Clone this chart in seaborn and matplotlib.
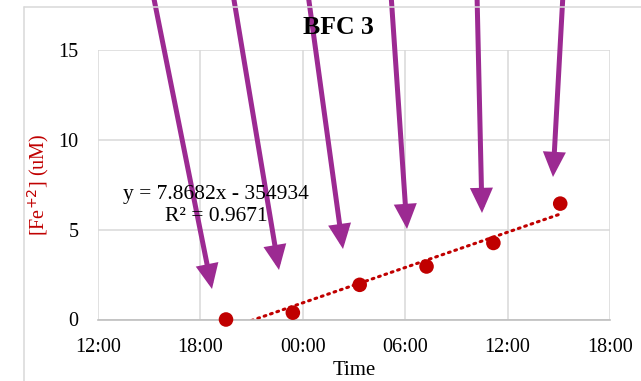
"""
BFC 3: Fe(II) concentration over time with linear trendline and overlaid arrows.
"""

import pandas as pd
import numpy as np
import matplotlib
matplotlib.use("Agg")
import matplotlib.pyplot as plt
import matplotlib.dates as mdates
from matplotlib.patches import FancyArrowPatch
from matplotlib.lines import Line2D
import seaborn as sns

# data
sample_times = ["2023-07-03 19:30", "2023-07-03 23:25", "2023-07-04 03:20",
                "2023-07-04 07:15", "2023-07-04 11:10", "2023-07-04 15:05"]
fe_values = [0.0, 0.38, 1.93, 2.95, 4.26, 6.45]
x_start = "2023-07-03 12:00"
x_end = "2023-07-04 18:00"
y_ticks = [0, 5, 10, 15]
equation_text = "y = 7.8682x - 354934"
r2_text = "R² = 0.9671"

RED = "#C00000"
PURPLE = "#9C2A92"
GRID = "#D9D9D9"

sns.set_theme(style="white")
plt.rcParams["font.family"] = ["Liberation Serif", "DejaVu Serif"]
plt.rcParams["text.color"] = "black"

df = pd.DataFrame({"time": pd.to_datetime(sample_times), "fe": fe_values})
df["t"] = mdates.date2num(df["time"])

fig = plt.figure(figsize=(6.41, 3.81), dpi=100)
W, H = 641, 381
ax = fig.add_axes([98 / W, 1 - 319.5 / H, (610 - 98) / W, (319.5 - 50) / H])

# trendline (clipped at the axis, like Excel)
sns.regplot(data=df, x="t", y="fe", scatter=False, ci=None, truncate=True, ax=ax,
            line_kws=dict(color=RED, lw=2.2, ls=(0, (0.6, 1.6)),
                          dash_capstyle="round"))
sns.scatterplot(data=df, x="t", y="fe", color=RED, s=110, edgecolor="none",
                ax=ax, zorder=3, clip_on=False)

ax.set_xlim(mdates.date2num(pd.Timestamp(x_start)), mdates.date2num(pd.Timestamp(x_end)))
ax.set_ylim(y_ticks[0], y_ticks[-1])
ax.set_yticks(y_ticks)
ax.xaxis.set_major_locator(mdates.HourLocator(byhour=[0, 6, 12, 18]))
ax.xaxis.set_major_formatter(mdates.DateFormatter("%H:%M"))

ax.grid(True, color=GRID, lw=1.1)
ax.set_axisbelow(True)
for s in ["top", "right", "left"]:
    ax.spines[s].set_visible(False)
ax.spines["bottom"].set_color("#BFBFBF")
ax.spines["bottom"].set_linewidth(1.2)
ax.tick_params(axis="both", length=0, labelsize=14.5, colors="black")
ax.tick_params(axis="x", pad=13)
ax.tick_params(axis="y", pad=14)

ax.set_xlabel("Time", fontsize=15, labelpad=3, color="black")
ax.set_ylabel("[Fe$^{+2}$] (uM)", fontsize=14.5, color=RED, labelpad=5)

fig.text(338 / W, 1 - 28 / H, "BFC 3", fontsize=18.5, fontweight="bold",
         ha="center", va="center", color="black")
fig.text(216 / W, 1 - 194 / H, equation_text, fontsize=15.5, ha="center", va="center",
         color="black")
fig.text(216 / W, 1 - 217 / H, r2_text, fontsize=15.5, ha="center", va="center",
         color="black")

# chart area border (cropped on the right and bottom)
fig.add_artist(Line2D([24 / W, 1], [1 - 7 / H, 1 - 7 / H], transform=fig.transFigure,
                      color=GRID, lw=1.1))
fig.add_artist(Line2D([24 / W, 24 / W], [0, 1 - 7 / H], transform=fig.transFigure,
                      color=GRID, lw=1.1))

# purple arrows drawn over the chart (pixel coords: start at top edge, tip)
arrows = [((153, -6), (212, 289)), ((233, -6), (279, 270)), ((308, -6), (343, 249)),
          ((391, -6), (407, 229)), ((477, -6), (482, 213)), ((563, -6), (553, 177))]
for (x0, y0), (x1, y1) in arrows:
    arr = FancyArrowPatch((x0 / W, 1 - y0 / H), (x1 / W, 1 - y1 / H),
                          transform=fig.transFigure,
                          arrowstyle="-|>,head_length=12,head_width=5.5",
                          color=PURPLE, lw=3.6, shrinkA=0, shrinkB=0,
                          joinstyle="miter", capstyle="butt")
    fig.add_artist(arr)

plt.savefig("out.png", dpi=100)
